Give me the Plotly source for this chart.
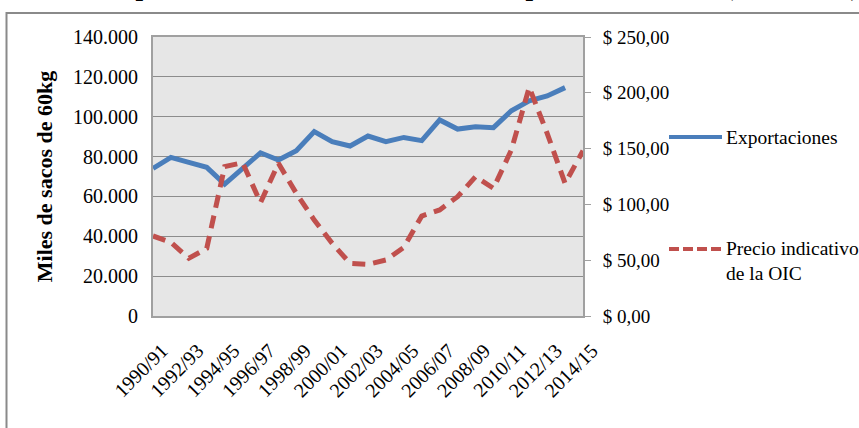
import plotly.graph_objects as go

# Campañas cafeteras (25 categorías, etiqueta cada dos)
campanas = [f"{y}/{str(y + 1)[-2:]}" for y in range(1990, 2015)]
etiquetas = campanas[::2]

# Exportaciones mundiales (miles de sacos de 60kg), sin dato para 2014/15
exportaciones = [74100, 79600, 77100, 74600, 66200, 73800, 81900, 78300, 82900, 92500,
                 87500, 85300, 90300, 87500, 89600, 88000, 98400, 93800, 95000, 94500,
                 103000, 108000, 110400, 114600]

# Precio indicativo de la OIC (US$)
precio_oic = [71.7, 66.0, 51.7, 60.6, 133.8, 137.4, 101.6, 136.8, 109.9, 86.0,
              65.1, 47.2, 46.3, 50.2, 61.5, 89.6, 95.0, 106.9, 124.8, 114.4,
              148.7, 204.9, 163.7, 118.9, 148.1]

azul = '#4a7ebb'
rojo = '#c0504d'
gris = '#8c8c8c'
fuente = 'Liberation Serif'

W, H = 859, 428
ML, MT = 153, 37
PW, PH = 430, 279
MR, MB = W - ML - PW, H - MT - PH


def px_x(p):
    return (p - ML) / PW


def px_y(p):
    return 1 + (MT - p) / PH


fig = go.Figure()

fig.add_trace(go.Scatter(
    x=campanas[:len(exportaciones)], y=exportaciones, mode='lines',
    name='Exportaciones', line=dict(color=azul, width=5), yaxis='y'))

fig.add_trace(go.Scatter(
    x=campanas, y=precio_oic, mode='lines',
    name='Precio indicativo<br>de la OIC', line=dict(color=rojo, width=5, dash='13px,8px'),
    yaxis='y2'))

shapes = [
    # borde del área del gráfico
    dict(type='rect', xref='paper', yref='paper', x0=px_x(6.5), x1=px_x(900),
         y0=px_y(13), y1=px_y(460), line=dict(color='#8a8a8a', width=2), layer='below'),
    # leyenda
    dict(type='line', xref='paper', yref='paper', x0=px_x(669), x1=px_x(722),
         y0=px_y(137), y1=px_y(137), line=dict(color=azul, width=4)),
    dict(type='line', xref='paper', yref='paper', x0=px_x(669), x1=px_x(722),
         y0=px_y(249), y1=px_y(249), line=dict(color=rojo, width=4, dash='10px,4px')),
]

annotations = [
    dict(text='Exportaciones', xref='paper', yref='paper', x=px_x(724), y=px_y(137),
         xanchor='left', yanchor='middle', showarrow=False,
         font=dict(family=fuente, size=19.5, color='black')),
    dict(text='Precio indicativo<br>de la OIC', xref='paper', yref='paper', x=px_x(724),
         y=px_y(261), xanchor='left', yanchor='middle', align='left', showarrow=False,
         font=dict(family=fuente, size=19.5, color='black')),
    # título cortado en la parte superior
    dict(text='<b>Exportaciones mundiales de café vs. precio indicativo (1990-2015)</b>',
         xref='paper', yref='paper', x=px_x(102), y=px_y(3.5), xanchor='left', yanchor='bottom',
         showarrow=False, font=dict(family=fuente, size=27, color='black')),
]

fig.update_layout(
    width=W, height=H,
    margin=dict(l=ML, r=MR, t=MT, b=MB),
    paper_bgcolor='white',
    plot_bgcolor='#e6e6e6',
    showlegend=False,
    font=dict(family=fuente, size=20, color='black'),
    shapes=shapes,
    annotations=annotations,
    xaxis=dict(
        type='category', categoryorder='array', categoryarray=campanas,
        tickmode='array', tickvals=etiquetas, ticktext=etiquetas,
        tickangle=-45, showgrid=False, ticks='',
        showline=True, linecolor='#a0a0a0', linewidth=2, mirror=True,
        tickfont=dict(family=fuente, size=20), ticklabelstandoff=13, ticklabelshift=9,
    ),
    yaxis=dict(
        range=[0, 140000], dtick=20000, tickformat=',d',
        showgrid=True, gridcolor=gris, gridwidth=1,
        showline=True, linecolor='#a0a0a0', linewidth=2, ticks='',
        zeroline=False, ticklabelstandoff=9,
        title=dict(text='<b>Miles de sacos de 60kg</b>', font=dict(family=fuente, size=22),
                   standoff=14),
    ),
    yaxis2=dict(
        range=[0, 250], dtick=50, overlaying='y', side='right',
        tickprefix='$ ', tickformat=',.2f', showgrid=False, zeroline=False,
        showline=True, linecolor='#a0a0a0', linewidth=2,
        tickfont=dict(family=fuente, size=19),
        ticks='outside', ticklen=6, tickcolor='#a0a0a0', ticklabelstandoff=8,
    ),
    separators=',.',
)

# sin el margen por defecto del <body>, el gráfico ocupa toda la ventana
fig.write_html('out.html', config={'displayModeBar': False},
               post_script="document.body.style.margin='0';")
